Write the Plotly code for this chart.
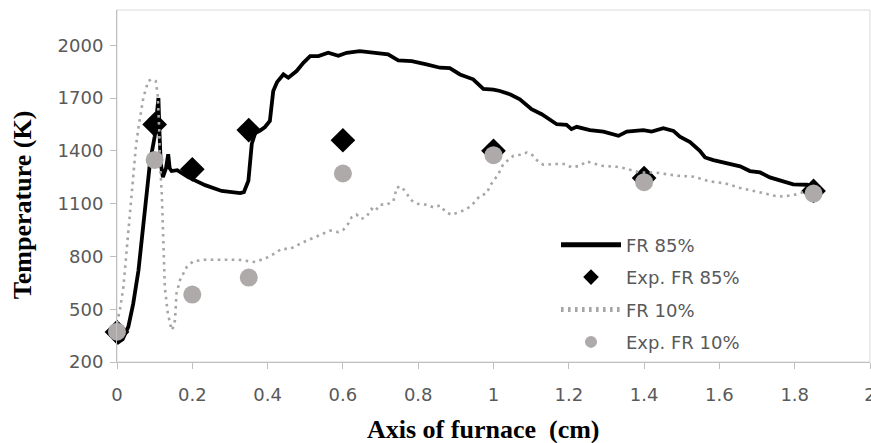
import plotly.graph_objects as go

# ---- data ----
fr85_x = [0.0, 0.005, 0.015, 0.03, 0.043, 0.057, 0.066, 0.074, 0.082, 0.088, 0.1, 0.105, 0.11,
          0.113, 0.116, 0.122, 0.13, 0.136, 0.14, 0.145, 0.16, 0.189, 0.234, 0.278, 0.327, 0.337,
          0.349, 0.358, 0.367, 0.38, 0.393, 0.406, 0.415, 0.425, 0.442, 0.455, 0.477, 0.495, 0.513,
          0.535, 0.561, 0.588, 0.61, 0.645, 0.681, 0.72, 0.747, 0.783, 0.822, 0.858, 0.884, 0.911,
          0.946, 0.973, 1.0, 1.017, 1.045, 1.07, 1.101, 1.128, 1.168, 1.194, 1.207, 1.221, 1.256,
          1.292, 1.332, 1.354, 1.398, 1.42, 1.451, 1.478, 1.495, 1.522, 1.548, 1.562, 1.584, 1.619,
          1.655, 1.681, 1.708, 1.734, 1.761, 1.796, 1.832, 1.849]
fr85_y = [360, 315, 330, 400, 530, 720, 900, 1060, 1200, 1340, 1480, 1600, 1700,
          1500, 1330, 1250, 1300, 1380, 1300, 1285, 1290, 1250, 1205, 1172, 1160, 1165,
          1230, 1440, 1500, 1515, 1535, 1570, 1740, 1790, 1834, 1815, 1853, 1900, 1938,
          1938, 1957, 1940, 1957, 1966, 1957, 1948, 1914, 1910, 1891, 1872, 1870, 1834,
          1806, 1752, 1748, 1740, 1720, 1693, 1636, 1608, 1551, 1547, 1523, 1536, 1517,
          1509, 1485, 1509, 1517, 1509, 1528, 1513, 1480, 1450, 1400, 1362, 1347, 1328,
          1312, 1285, 1277, 1249, 1230, 1209, 1207, 1200]

exp85_x = [0.0, 0.1, 0.2, 0.35, 0.6, 1.0, 1.4, 1.85]
exp85_y = [370, 1550, 1295, 1518, 1460, 1400, 1245, 1172]

fr10_x = [0.0, 0.008, 0.017, 0.026, 0.035, 0.043, 0.05, 0.057, 0.07, 0.083, 0.092, 0.103, 0.108,
          0.112, 0.114, 0.119, 0.123, 0.127, 0.135, 0.145, 0.15, 0.154, 0.158, 0.167, 0.185, 0.203,
          0.234, 0.322, 0.367, 0.38, 0.402, 0.424, 0.437, 0.46, 0.495, 0.53, 0.566, 0.588, 0.601,
          0.614, 0.623, 0.636, 0.649, 0.663, 0.676, 0.685, 0.699, 0.716, 0.734, 0.743, 0.756, 0.769,
          0.783, 0.8, 0.823, 0.84, 0.858, 0.874, 0.889, 0.907, 0.924, 0.942, 0.964, 0.982, 0.991,
          1.013, 1.026, 1.053, 1.07, 1.088, 1.101, 1.115, 1.132, 1.168, 1.19, 1.207, 1.23, 1.247,
          1.265, 1.287, 1.327, 1.345, 1.371, 1.389, 1.429, 1.451, 1.469, 1.491, 1.531, 1.553, 1.575,
          1.615, 1.655, 1.695, 1.734, 1.756, 1.779, 1.801, 1.823, 1.849]
fr10_y = [420, 500, 626, 853, 1079, 1287, 1420, 1532, 1702, 1796, 1806, 1796, 1721,
          1532, 1343, 1155, 872, 626, 476, 381, 400, 438, 589, 664, 739, 773,
          781, 781, 768, 777, 796, 824, 843, 843, 881, 913, 947, 938, 951,
          985, 1022, 1038, 1013, 1026, 1070, 1056, 1094, 1094, 1113, 1192, 1196, 1158,
          1117, 1098, 1094, 1079, 1089, 1051, 1036, 1051, 1064, 1089, 1145, 1158, 1202,
          1268, 1325, 1372, 1377, 1390, 1381, 1347, 1321, 1325, 1325, 1306, 1315, 1340,
          1328, 1315, 1309, 1302, 1287, 1277, 1277, 1268, 1264, 1258, 1253, 1240, 1226,
          1215, 1189, 1170, 1151, 1140, 1143, 1151, 1165, 1165]

exp10_x = [0.0, 0.1, 0.2, 0.35, 0.6, 1.0, 1.4, 1.85]
exp10_y = [372, 1348, 583, 680, 1271, 1375, 1222, 1157]

names = ["FR 85%", "Exp. FR 85%", "FR 10%", "Exp. FR 10%"]
x_title = "Axis of furnace\u00a0 (cm)"
y_title = "Temperature (K)"

# ---- figure ----
fig = go.Figure()
fig.add_trace(go.Scatter(x=fr85_x, y=fr85_y, mode="lines", name=names[0], legendgroup="a",
                         line=dict(color="black", width=3.8)))
fig.add_trace(go.Scatter(x=exp85_x, y=exp85_y, mode="markers", name=names[1], legendgroup="b",
                         marker=dict(symbol="diamond", size=19, color="black"), cliponaxis=False))
fig.add_trace(go.Scatter(x=fr10_x, y=fr10_y, mode="lines", name=names[2], legendgroup="c",
                         line=dict(color="#A6A6A6", width=2.6, dash="2.6px,4.4px")))
fig.add_trace(go.Scatter(x=exp10_x, y=exp10_y, mode="markers", name=names[3], legendgroup="d",
                         marker=dict(symbol="circle", size=18, color="#AEAAAA"), cliponaxis=False))

tick_font = dict(family="DejaVu Sans", size=18, color="#595959")
axis_common = dict(showgrid=False, zeroline=False, showline=True, linecolor="#BFBFBF", linewidth=1,
                   ticks="outside", ticklen=6, tickcolor="#BFBFBF", tickfont=tick_font,
                   ticklabeloverflow="allow", automargin=False)

fig.update_layout(
    width=871, height=443,
    margin=dict(l=117, r=1, t=10, b=81),
    paper_bgcolor="white", plot_bgcolor="white",
    xaxis=dict(range=[0, 2], tick0=0, dtick=0.2, ticklabelstandoff=10, **axis_common),
    yaxis=dict(range=[200, 2200], tick0=200, dtick=300, ticklabelstandoff=3, **axis_common),
    showlegend=True,
    legend=dict(x=0.583, y=0.385, xanchor="left", yanchor="top", bgcolor="rgba(0,0,0,0)",
                font=dict(family="DejaVu Sans", size=18, color="#595959"),
                itemwidth=60, itemsizing="constant", tracegroupgap=6),
    shapes=[dict(type="rect", xref="paper", yref="paper", x0=0, y0=0, x1=1, y1=1,
                 line=dict(color="#D9D9D9", width=1), layer="below")],
    annotations=[
        dict(text=x_title, xref="paper", yref="paper", x=0.4867, y=-0.193, showarrow=False,
             xanchor="center", yanchor="middle",
             font=dict(family="Liberation Serif", size=26, color="black", weight="bold")),
        dict(text=y_title, xref="paper", yref="paper", x=-0.126, y=0.446, showarrow=False,
             textangle=-90, xanchor="center", yanchor="middle",
             font=dict(family="Liberation Serif", size=26, color="black", weight="bold")),
    ],
)

fig.write_html("out.html")
